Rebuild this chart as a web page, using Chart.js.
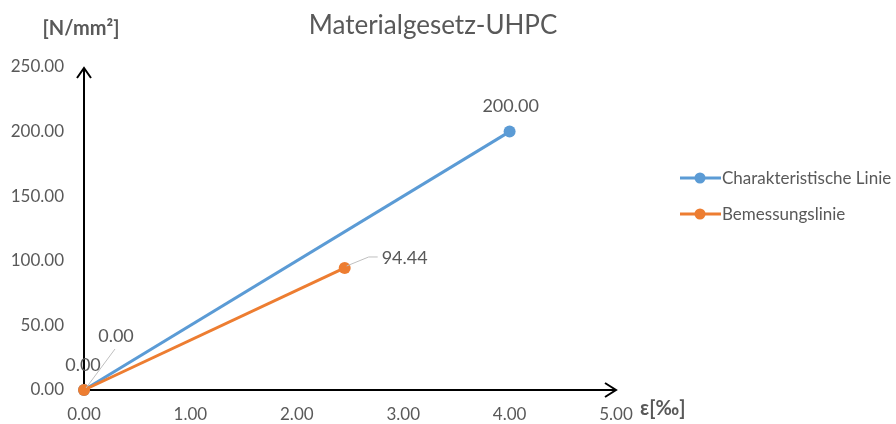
<!DOCTYPE html>
<html>
<head>
<meta charset="utf-8">
<script src="https://cdn.jsdelivr.net/npm/chart.js@4.4.1/dist/chart.umd.min.js"></script>
<style>
  html, body { margin: 0; padding: 0; background: #fff; }
  #wrap { width: 896px; height: 424px; }
</style>
</head>
<body>
<div id="wrap"><canvas id="chart" width="896" height="424"></canvas></div>
<script>
// Werte
const chartTitle = "Materialgesetz-UHPC";
const yAxisTitle = "[N/mm²]";
const xAxisTitle = "ε[‰]";

const seriesNames = ["Charakteristische Linie", "Bemessungslinie"];
const seriesColors = ["#5B9BD5", "#ED7D31"];

const strainChar = [0, 4.0];
const stressChar = [0, 200.0];
const strainDesign = [0, 2.45];
const stressDesign = [0, 94.44];

const xMin = 0, xMax = 5, xStep = 1;
const yMin = 0, yMax = 250, yStep = 50;

const textGrey = "#595959";
const fontFam = "Lato, 'Open Sans', sans-serif";

function toPoints(xs, ys) {
  return xs.map((x, i) => ({ x: x, y: ys[i] }));
}

// Pfeile an den Achsen
const axisPlugin = {
  id: "axisArrows",
  beforeDatasetsDraw(chart) {
    const ctx = chart.ctx;
    const xs = chart.scales.x, ys = chart.scales.y;
    const x0 = xs.getPixelForValue(xMin), x1 = xs.getPixelForValue(xMax);
    const y0 = ys.getPixelForValue(yMin), y1 = ys.getPixelForValue(yMax);
    ctx.save();
    ctx.strokeStyle = "#000";
    ctx.lineWidth = 2;
    ctx.beginPath();
    ctx.moveTo(x0, y0); ctx.lineTo(x0, y1 + 1);
    ctx.moveTo(x0 - 1, y0); ctx.lineTo(x1, y0);
    ctx.stroke();
    ctx.beginPath();
    ctx.moveTo(x0 - 7, y1 + 11); ctx.lineTo(x0, y1 + 1); ctx.lineTo(x0 + 7, y1 + 11);
    ctx.moveTo(x1 - 11, y0 - 7); ctx.lineTo(x1, y0); ctx.lineTo(x1 - 11, y0 + 7);
    ctx.stroke();
    ctx.restore();
  }
};

// Beschriftungen, Titel, Legende
const labelPlugin = {
  id: "labels",
  afterDatasetsDraw(chart) {
    const ctx = chart.ctx;
    const m0 = chart.getDatasetMeta(0).data;
    const m1 = chart.getDatasetMeta(1).data;
    ctx.save();
    ctx.textAlign = "center";
    ctx.textBaseline = "middle";

    // Titel
    ctx.fillStyle = textGrey;
    ctx.font = "26px " + fontFam;
    ctx.fillText(chartTitle, 433, 26);

    // Achsentitel
    ctx.font = "bold 20px " + fontFam;
    ctx.fillText(yAxisTitle, 81, 29);
    ctx.textAlign = "left";
    ctx.fillText(xAxisTitle, 640, 409);

    // Datenbeschriftungen
    ctx.font = "18px " + fontFam;
    ctx.textAlign = "center";
    ctx.strokeStyle = "#BFBFBF";
    ctx.lineWidth = 1;

    ctx.beginPath();
    ctx.moveTo(m0[0].x + 2, m0[0].y - 2);
    ctx.lineTo(m0[0].x + 31, m0[0].y - 41);
    ctx.stroke();
    ctx.fillText(stressChar[0].toFixed(2), m0[0].x + 32, m0[0].y - 54);
    ctx.fillText(stressChar[1].toFixed(2), m0[1].x + 1, m0[1].y - 25);

    ctx.fillText(stressDesign[0].toFixed(2), m1[0].x - 1, m1[0].y - 25);
    ctx.beginPath();
    ctx.moveTo(m1[1].x + 2, m1[1].y - 2);
    ctx.lineTo(m1[1].x + 24, m1[1].y - 11);
    ctx.lineTo(m1[1].x + 33, m1[1].y - 11);
    ctx.stroke();
    ctx.textAlign = "left";
    ctx.fillText(stressDesign[1].toFixed(2), m1[1].x + 37, m1[1].y - 10);

    // Legende
    const legY = [178, 214];
    ctx.font = "17px " + fontFam;
    seriesNames.forEach((name, i) => {
      ctx.strokeStyle = seriesColors[i];
      ctx.fillStyle = seriesColors[i];
      ctx.lineWidth = 3;
      ctx.beginPath();
      ctx.moveTo(680, legY[i]);
      ctx.lineTo(721, legY[i]);
      ctx.stroke();
      ctx.beginPath();
      ctx.arc(700, legY[i], 5.5, 0, Math.PI * 2);
      ctx.fill();
      ctx.fillStyle = textGrey;
      ctx.fillText(name, 722, legY[i] + 1);
    });
    ctx.restore();
  }
};

const ctx = document.getElementById("chart").getContext("2d");
const myChart = new Chart(ctx, {
  type: "scatter",
  data: {
    datasets: [
      {
        label: seriesNames[0],
        data: toPoints(strainChar, stressChar),
        showLine: true,
        borderColor: seriesColors[0],
        backgroundColor: seriesColors[0],
        borderWidth: 3,
        pointRadius: 6,
        pointBorderWidth: 0,
        clip: false,
        order: 1,
      },
      {
        label: seriesNames[1],
        data: toPoints(strainDesign, stressDesign),
        showLine: true,
        borderColor: seriesColors[1],
        backgroundColor: seriesColors[1],
        borderWidth: 3,
        pointRadius: 6,
        pointBorderWidth: 0,
        clip: false,
        order: 0,
      },
    ],
  },
  options: {
    responsive: false,
    animation: false,
    layout: { padding: { left: 0, top: 67, right: 280, bottom: 0 } },
    plugins: {
      legend: { display: false },
      title: { display: false },
      tooltip: { enabled: false },
    },
    scales: {
      x: {
        type: "linear",
        min: xMin,
        max: xMax,
        grid: { display: false },
        border: { display: false },
        ticks: {
          stepSize: xStep,
          padding: 6,
          color: textGrey,
          font: { family: fontFam, size: 17 },
          maxRotation: 0,
          callback: (v) => Number(v).toFixed(2),
        },
        afterFit: (s) => { s.height = 34; },
      },
      y: {
        type: "linear",
        min: yMin,
        max: yMax,
        grid: { display: false },
        border: { display: false },
        ticks: {
          stepSize: yStep,
          padding: 12,
          color: textGrey,
          font: { family: fontFam, size: 17 },
          callback: (v) => Number(v).toFixed(2),
        },
        afterFit: (s) => { s.width = 84; },
      },
    },
  },
  plugins: [axisPlugin, labelPlugin],
});
</script>
</body>
</html>
